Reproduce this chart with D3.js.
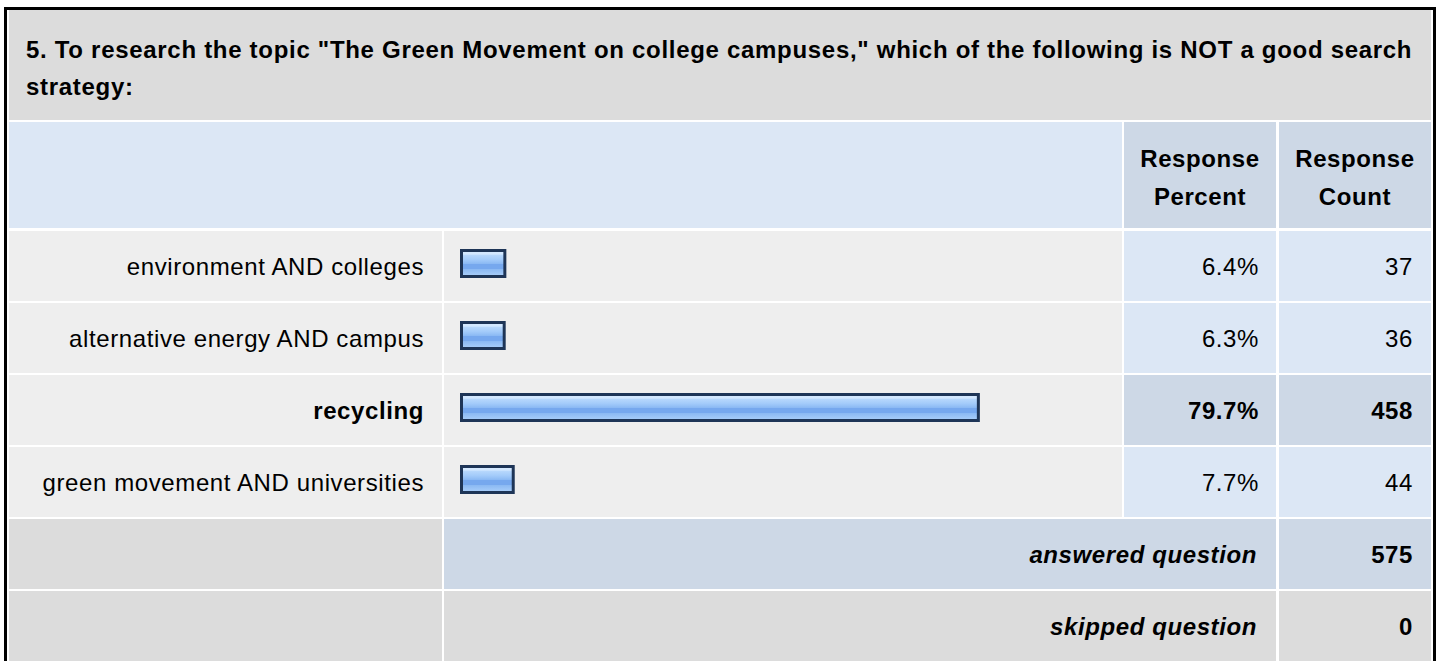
<!DOCTYPE html>
<html><head><meta charset="utf-8">
<script src="https://cdn.jsdelivr.net/npm/d3@7"></script>
<style>
html,body{margin:0;padding:0;background:#fff;}
svg{display:block;font-family:"Liberation Sans",Arial,Helvetica,sans-serif;}
</style></head><body>
<svg id="chart" width="1440" height="661"></svg>
<script>
const titleLines = ["5. To research the topic \"The Green Movement on college campuses,\" which of the following is NOT a good search", "strategy:"];
const headerPercent = ["Response", "Percent"];
const headerCount = ["Response", "Count"];
const categories = ["environment AND colleges", "alternative energy AND campus", "recycling", "green movement AND universities"];
const percents = [6.4, 6.3, 79.7, 7.7];
const counts = [37, 36, 458, 44];
const summaryLabels = ["answered question", "skipped question"];
const summaryValues = [575, 0];

const svg = d3.select("#chart");
const FS = 24, LS = "0.6px";

const defs = svg.append("defs");
const grad = defs.append("linearGradient").attr("id","barGrad").attr("x1",0).attr("y1",0).attr("x2",0).attr("y2",1);
[[0,"#d3e8ff"],[0.15,"#d3e8ff"],[0.16,"#b9d9fd"],[0.35,"#a3cbfa"],[0.5,"#8cbaf4"],[0.52,"#76a8ee"],[0.7,"#76a8ee"],[0.72,"#8bb9f3"],[1,"#abd0fa"]]
  .forEach(([o,c]) => grad.append("stop").attr("offset",o).attr("stop-color",c));

// column geometry
const colX = {label:[9,442], bar:[444,1122], pct:[1124,1276], cnt:[1279,1431]};
const allRows = categories.concat(summaryLabels);
const y = d3.scaleBand().domain(allRows).range([229, 229 + 72*allRows.length]).paddingInner(0);
const rowH = 70;
const maxP = d3.max(percents);

// outer frame
svg.append("rect").attr("x",5.5).attr("y",8.5).attr("width",1429).attr("height",700)
  .attr("fill","#fff").attr("stroke","#000").attr("stroke-width",3);

// title
svg.append("rect").attr("x",9).attr("y",10).attr("width",1422).attr("height",110).attr("fill","#dcdcdc");
svg.append("g").selectAll("text").data(titleLines).join("text")
  .attr("x",26).attr("y",(d,i)=>58+i*37)
  .attr("font-size",FS).attr("font-weight","bold").attr("letter-spacing","0.7px").attr("fill","#000").text(d=>d);

// header row
svg.append("rect").attr("x",9).attr("y",122).attr("width",1113).attr("height",106).attr("fill","#dce7f5");
[[colX.pct, headerPercent],[colX.cnt, headerCount]].forEach(([c, lines]) => {
  svg.append("rect").attr("x",c[0]).attr("y",122).attr("width",c[1]-c[0]).attr("height",106).attr("fill","#cdd8e6");
  svg.append("g").selectAll("text").data(lines).join("text")
    .attr("x",(c[0]+c[1])/2).attr("y",(d,i)=>167+i*38).attr("text-anchor","middle")
    .attr("font-size",FS).attr("font-weight","bold").attr("letter-spacing",LS).text(d=>d);
});

// answer rows
const x = d3.scaleLinear().domain([0,100]).range([0,646]);
const rows = svg.append("g").selectAll("g").data(categories.map((c,i)=>({c, p:percents[i], n:counts[i]}))).join("g")
  .attr("transform", d => `translate(0,${y(d.c)+2})`);
rows.append("rect").attr("x",colX.label[0]).attr("width",colX.label[1]-colX.label[0]).attr("height",rowH).attr("fill","#eeeeee");
rows.append("rect").attr("x",colX.bar[0]).attr("width",colX.bar[1]-colX.bar[0]).attr("height",rowH).attr("fill","#eeeeee");
rows.append("rect").attr("x",colX.pct[0]).attr("width",colX.pct[1]-colX.pct[0]).attr("height",rowH).attr("fill",d=>d.p===maxP?"#cdd8e6":"#dce7f5");
rows.append("rect").attr("x",colX.cnt[0]).attr("width",colX.cnt[1]-colX.cnt[0]).attr("height",rowH).attr("fill",d=>d.p===maxP?"#cdd8e6":"#dce7f5");
const tattr = sel => sel.attr("y",44).attr("font-size",FS).attr("letter-spacing",LS).attr("text-anchor","end")
  .attr("font-weight",d=>d.p===maxP?"bold":"normal").attr("fill","#000");
rows.append("text").call(tattr).attr("x",colX.label[1]-18).text(d=>d.c);
rows.append("text").call(tattr).attr("x",colX.pct[1]-17).text(d=>d.p.toFixed(1)+"%");
rows.append("text").call(tattr).attr("x",colX.cnt[1]-18).text(d=>d.n);
rows.append("rect").attr("x",461.5).attr("y",19.5).attr("height",26)
  .attr("width",d=>x(d.p)+2).attr("fill","url(#barGrad)").attr("stroke","#1e3557").attr("stroke-width",3);

// summary rows
const lastI = summaryLabels.length - 1;
const sums = svg.append("g").selectAll("g").data(summaryLabels.map((l,i)=>({l, v:summaryValues[i], i}))).join("g")
  .attr("transform", d => `translate(0,${y(d.l)+2})`);
const hgt = d => d.i===lastI ? rowH+20 : rowH;
sums.append("rect").attr("x",colX.label[0]).attr("width",colX.label[1]-colX.label[0]).attr("height",hgt).attr("fill","#dcdcdc");
sums.append("rect").attr("x",colX.bar[0]).attr("width",colX.pct[1]-colX.bar[0]).attr("height",hgt).attr("fill",d=>d.i?"#dcdcdc":"#cdd8e6");
sums.append("rect").attr("x",colX.cnt[0]).attr("width",colX.cnt[1]-colX.cnt[0]).attr("height",hgt).attr("fill",d=>d.i?"#dcdcdc":"#cdd8e6");
sums.append("text").attr("x",colX.pct[1]-19).attr("y",44).attr("text-anchor","end").attr("font-size",FS)
  .attr("letter-spacing",LS).attr("font-weight","bold").attr("font-style","italic").text(d=>d.l);
sums.append("text").attr("x",colX.cnt[1]-18).attr("y",44).attr("text-anchor","end").attr("font-size",FS)
  .attr("letter-spacing",LS).attr("font-weight","bold").text(d=>d.v);
</script>
</body></html>
